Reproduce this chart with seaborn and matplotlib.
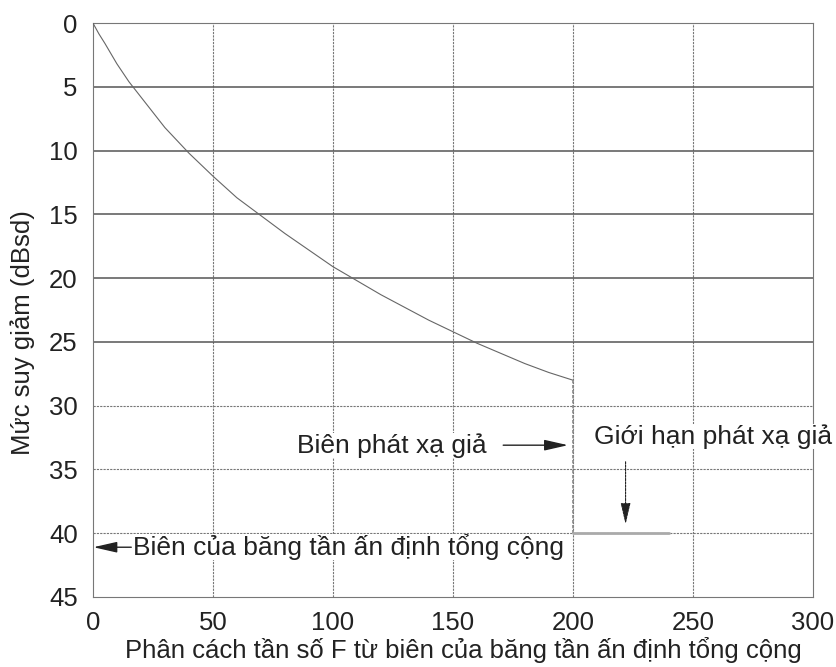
import matplotlib
matplotlib.use("Agg")
import matplotlib.pyplot as plt
import seaborn as sns
import pandas as pd

# Curve
freq_sep = [0, 2.5, 5, 7.5, 10, 15, 20, 25, 30, 40, 50, 60, 70, 80, 90, 100, 110, 120,
            130, 140, 150, 160, 170, 180, 190, 200]
attenuation = [0, 0.85, 1.6, 2.4, 3.2, 4.6, 5.8, 7.0, 8.2, 10.2, 12.0, 13.7, 15.1, 16.5,
               17.8, 19.1, 20.2, 21.3, 22.3, 23.3, 24.2, 25.1, 25.9, 26.7, 27.4, 28.0]

# Step to the spurious limit
step_x = [200, 200]
step_y = [28.0, 40.0]
limit_x = [200, 240]
limit_y = [40.0, 40.0]

x_ticks = [0, 50, 100, 150, 200, 250, 300]
y_ticks = [0, 5, 10, 15, 20, 25, 30, 35, 40, 45]
solid_grid_y = [5, 10, 15, 20, 25]
dashed_grid_y = [30, 35, 40]

sns.set_style("white")
plt.rcParams['font.family'] = ['Liberation Sans', 'DejaVu Sans']

FS = 18.5
FS_ANN = 19
TC = "#222222"

fig = plt.figure(figsize=(8.37, 6.67), dpi=100)
ax = fig.add_axes([0.111, 0.105, 0.860, 0.8605])

grid_c = "#777777"
for xv in x_ticks[1:-1]:
    ax.axvline(xv, color=grid_c, lw=0.8, ls=(0, (2, 1)), zorder=1)
for yv in solid_grid_y:
    ax.axhline(yv, color="#555555", lw=1.1, zorder=1)
for yv in dashed_grid_y:
    ax.axhline(yv, color=grid_c, lw=0.8, ls=(0, (2, 1)), zorder=1)

df = pd.DataFrame({"F": freq_sep, "A": attenuation})
sns.lineplot(data=df, x="F", y="A", ax=ax, color="#666666", lw=0.8, zorder=3)
ax.plot(step_x, step_y, color="#888888", lw=1.2, ls=(0, (2, 1)), zorder=3)
ax.plot(limit_x, limit_y, color="#aaaaaa", lw=2.0, zorder=3)

ax.set_xlim(0, 300)
ax.set_ylim(45, 0)
ax.set_xticks(x_ticks)
ax.set_yticks(y_ticks)
ax.tick_params(axis="y", labelsize=FS, length=0, pad=11, colors=TC)
ax.tick_params(axis="x", labelsize=FS, length=0, pad=10, colors=TC)
ax.set_xlabel("Phân cách tần số F từ biên của băng tần ấn định tổng cộng",
              fontsize=FS, color=TC)
ax.set_ylabel("Mức suy giảm (dBsd)", fontsize=FS, color=TC)
ax.xaxis.set_label_coords(0.514, -0.069)
ax.yaxis.set_label_coords(-0.081, 0.46)

for sp in ax.spines.values():
    sp.set_visible(True)
    sp.set_color(grid_c)
    sp.set_linewidth(0.8)
    sp.set_linestyle((0, (2, 1)))

arrow_kw = dict(arrowstyle="-|>,head_length=1.45,head_width=0.33", color=TC, lw=1.0,
                mutation_scale=10, shrinkA=0, shrinkB=0)

# Annotations
ax.text(164, 33.1, "Biên phát xạ giả", fontsize=FS_ANN, color=TC, ha="right",
        va="center", bbox=dict(facecolor="white", edgecolor="none", pad=0), zorder=4)
ax.annotate("", xy=(198, 33.1), xytext=(171, 33.1), arrowprops=arrow_kw, zorder=5)

ax.text(209, 32.4, "Giới hạn phát xạ giả", fontsize=FS_ANN, color=TC, ha="left",
        va="center", bbox=dict(facecolor="white", edgecolor="none", pad=0), zorder=4,
        clip_on=False)
ax.annotate("", xy=(222, 39.3), xytext=(222, 34.4),
            arrowprops=dict(arrowstyle="-|>,head_length=1.3,head_width=0.3",
                            color=TC, lw=0.8, ls=(0, (2, 1)), mutation_scale=10,
                            shrinkA=0, shrinkB=0), zorder=5)

ax.text(16.6, 41.1, "Biên của băng tần ấn định tổng cộng", fontsize=FS_ANN, color=TC,
        ha="left", va="center", bbox=dict(facecolor="white", edgecolor="none", pad=0),
        zorder=4)
ax.annotate("", xy=(0.2, 41.1), xytext=(16, 41.1), arrowprops=arrow_kw, zorder=5)

fig.savefig("out.png", dpi=100)
